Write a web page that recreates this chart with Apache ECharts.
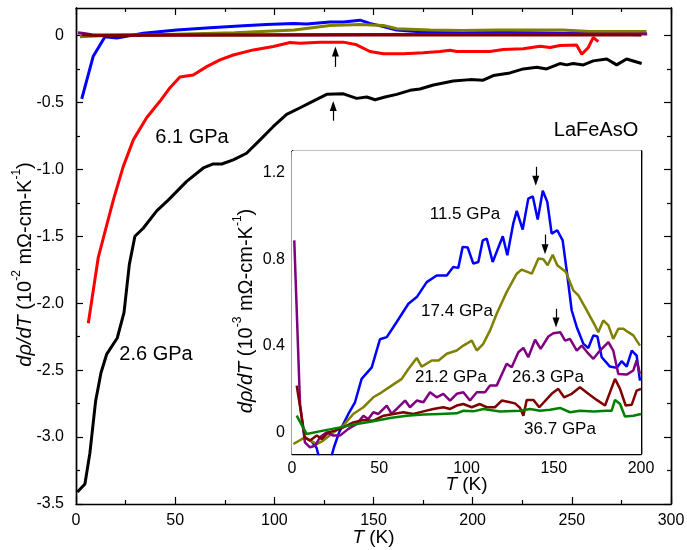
<!DOCTYPE html>
<html>
<head>
<meta charset="utf-8">
<script src="https://cdn.jsdelivr.net/npm/echarts@6/dist/echarts.min.js"></script>
<style>
  html, body { margin: 0; padding: 0; background: #fff; }
  #chart { width: 687px; height: 550px; }
</style>
</head>
<body>
<div id="chart"></div>
<script>
// ---- main panel: d rho / dT in 10^-2 mOhm-cm/K ----
var t26 = [0.7, 4.5, 7, 9.9, 12.6, 15.5, 20.8, 24.2, 26.9, 29.7, 33.9, 40.7, 46.5, 55.8, 64.2, 69.2, 73.5, 79.3, 86, 92.8, 99.5, 106.2, 113, 119.6, 126.4, 134.8, 141.5, 146.6, 150.8, 155.8, 161.7, 168.4, 173.4, 180.2, 190.2, 198.7, 205.3, 210.4, 218.8, 225.5, 232.3, 237.3, 244, 247.4, 250.7, 255.8, 260.8, 267.6, 272.6, 277.6, 285.2];
var v26 = [-3.41, -3.35, -3.12, -2.73, -2.52, -2.38, -2.26, -2.07, -1.71, -1.50, -1.44, -1.31, -1.23, -1.09, -0.99, -0.96, -0.96, -0.93, -0.88, -0.78, -0.68, -0.59, -0.54, -0.49, -0.44, -0.436, -0.47, -0.46, -0.48, -0.46, -0.44, -0.41, -0.40, -0.37, -0.34, -0.33, -0.334, -0.30, -0.28, -0.25, -0.237, -0.25, -0.21, -0.22, -0.21, -0.22, -0.19, -0.176, -0.22, -0.176, -0.21];

var t61 = [6.2, 11.2, 18.8, 23.8, 28.9, 35.6, 42.4, 47.4, 52.4, 59.1, 65.9, 72.6, 79.3, 89.4, 99.5, 107.9, 113, 123, 134.8, 141.5, 148.2, 155, 165, 175.1, 183.5, 188.6, 192, 198.7, 208.7, 215.4, 225.5, 234, 239, 244, 252.4, 255, 258.3, 260.8, 263.3];
var v61 = [-2.15, -1.66, -1.23, -0.98, -0.78, -0.615, -0.49, -0.39, -0.31, -0.295, -0.233, -0.183, -0.146, -0.108, -0.083, -0.053, -0.058, -0.05, -0.05, -0.07, -0.12, -0.137, -0.137, -0.13, -0.12, -0.11, -0.12, -0.12, -0.12, -0.105, -0.1, -0.08, -0.09, -0.075, -0.072, -0.14, -0.09, -0.014, -0.046];

var t115 = [2.9, 8.7, 14.6, 20.5, 33.9, 50.8, 67.6, 84.4, 96.1, 109.6, 116.3, 128, 134.8, 143.2, 148.2, 155, 161.7, 171.7, 186.9, 203.7, 230, 260, 285];
var v115 = [-0.474, -0.155, -0.01, -0.02, 0.016, 0.04, 0.058, 0.073, 0.081, 0.09, 0.086, 0.1, 0.1, 0.114, 0.09, 0.066, 0.04, 0.03, 0.024, 0.024, 0.02, 0.012, 0.005];

var t174 = [2, 15, 40, 80, 110, 128, 143, 155, 161.7, 178.5, 195, 212, 229, 245.6, 259, 287.7];
var v174 = [-0.01, 0, 0.005, 0.02, 0.04, 0.075, 0.082, 0.075, 0.05, 0.04, 0.037, 0.04, 0.04, 0.04, 0.03, 0.03];

var t212 = [1, 4, 8, 20, 100, 200, 288];
var v212 = [0.02, 0.015, 0.005, 0.003, 0.005, 0.008, 0.01];

var t263 = [3, 10, 50, 150, 250, 285];
var v263 = [0.005, 0, 0.002, 0.003, 0.004, 0.004];

// ---- inset: d rho / dT in 10^-3 mOhm-cm/K ----
var it115 = [11, 14, 17, 21, 24, 27, 32.3, 36.1, 39.9, 45.7, 50.4, 54.3, 60, 66.7, 71.5, 77.2, 82.9, 88.7, 92.4, 95.3, 97.8, 100.7, 103.9, 106.8, 109.3, 111.6, 115, 120.8, 123.4, 126.8, 128.8, 132.2, 135.4, 138, 140.8, 143.7, 146.3, 148.8, 152, 155.1, 157.4, 160.3, 163.2, 167, 169.8, 172.7, 175, 177.5, 182.2, 186.1, 188.9, 191.8, 194.7, 197.5, 199.4];
var iv115 = [-0.04, -0.07, -0.16, -0.16, -0.07, 0.0, 0.085, 0.139, 0.247, 0.3, 0.43, 0.44, 0.51, 0.594, 0.625, 0.694, 0.725, 0.725, 0.764, 0.76, 0.857, 0.854, 0.78, 0.787, 0.887, 0.895, 0.787, 0.906, 0.818, 0.965, 1.023, 0.937, 1.08, 1.09, 0.983, 1.116, 1.065, 0.918, 0.934, 0.887, 0.749, 0.563, 0.486, 0.409, 0.39, 0.448, 0.443, 0.347, 0.304, 0.298, 0.329, 0.304, 0.378, 0.355, 0.239];

var it174 = [0.8, 7.4, 14.2, 17.9, 23, 29.4, 35.1, 40.9, 46.6, 51.4, 57.1, 62.9, 66.7, 71.5, 74.3, 80.1, 84, 88.7, 94.4, 98.2, 103, 105.9, 109.6, 113.5, 117.3, 123, 128.8, 131.6, 137.4, 141.2, 144, 146.5, 149.4, 152, 157, 161.2, 164.1, 167.9, 173.6, 175.5, 178.4, 181.3, 184.1, 187, 189.9, 192.7, 195.6, 199.4];
var iv174 = [-0.054, -0.023, -0.054, -0.038, -0.005, 0.031, 0.085, 0.116, 0.162, 0.185, 0.216, 0.247, 0.293, 0.344, 0.304, 0.332, 0.332, 0.363, 0.378, 0.401, 0.424, 0.378, 0.409, 0.471, 0.548, 0.648, 0.733, 0.752, 0.733, 0.803, 0.80, 0.772, 0.821, 0.772, 0.741, 0.656, 0.633, 0.579, 0.494, 0.463, 0.517, 0.494, 0.432, 0.479, 0.479, 0.463, 0.448, 0.401];

var it212 = [1.3, 4.6, 7.4, 10.3, 13.2, 16, 19.9, 23.7, 27.5, 32.3, 37.1, 40.9, 43.7, 46.6, 49.5, 54.3, 57.1, 61.9, 64.8, 67.6, 71.5, 75.3, 79.1, 82.9, 86.7, 90.6, 94.4, 98.2, 102, 105.9, 110.6, 113.5, 117.3, 123, 125.9, 129.7, 132.6, 135.4, 139.3, 142.5, 146.9, 149.8, 153.7, 156.5, 159.3, 163.2, 166, 169.2, 172.7, 176.5, 181.3, 184.1, 187, 191.8, 195.6, 197.5, 199.4];
var iv212 = [0.887, 0.131, -0.046, -0.069, -0.062, -0.023, 0.0, -0.015, -0.015, 0.016, 0.039, 0.077, 0.062, 0.093, 0.085, 0.124, 0.085, 0.124, 0.147, 0.116, 0.147, 0.139, 0.185, 0.162, 0.178, 0.147, 0.178, 0.185, 0.147, 0.185, 0.185, 0.216, 0.216, 0.317, 0.301, 0.37, 0.39, 0.347, 0.428, 0.386, 0.443, 0.458, 0.463, 0.424, 0.432, 0.378, 0.401, 0.37, 0.34, 0.378, 0.417, 0.378, 0.27, 0.267, 0.286, 0.332, 0.27];

var it263 = [2.7, 7.4, 10.3, 14.2, 17, 20.8, 24.6, 29.4, 35.1, 40.9, 46.6, 52.5, 58.1, 63.8, 69.5, 75.3, 81, 86.7, 90.6, 94.4, 98.2, 103, 107.7, 111.6, 116.3, 120.2, 124.9, 127.8, 130.7, 132.6, 134.5, 138.3, 141.7, 148.8, 152.6, 155.9, 160.3, 165, 169.8, 174.6, 179.4, 185.1, 188, 191.2, 194.7, 197.5, 200];
var iv263 = [0.216, -0.023, -0.038, -0.015, -0.031, 0.0, 0.008, 0.023, 0.046, 0.057, 0.054, 0.077, 0.085, 0.093, 0.085, 0.097, 0.108, 0.116, 0.108, 0.124, 0.131, 0.116, 0.131, 0.116, 0.116, 0.147, 0.139, 0.134, 0.113, 0.077, 0.15, 0.15, 0.116, 0.178, 0.201, 0.162, 0.178, 0.208, 0.178, 0.15, 0.124, 0.247, 0.201, 0.124, 0.128, 0.193, 0.201];

var it367 = [2.7, 8.4, 17.9, 27.5, 37.1, 46.6, 56.2, 65.7, 75.3, 84.9, 94.4, 98.2, 104, 109.6, 119.2, 130.7, 136.4, 142.1, 147.9, 153.6, 159.3, 165, 172.7, 180.3, 183.2, 185.1, 188, 190.8, 195.6, 200];
var iv367 = [0.077, -0.008, 0.008, 0.023, 0.039, 0.051, 0.066, 0.077, 0.082, 0.085, 0.088, 0.1, 0.097, 0.108, 0.096, 0.1, 0.108, 0.1, 0.104, 0.113, 0.093, 0.1, 0.096, 0.1, 0.1, 0.15, 0.131, 0.073, 0.077, 0.085];

// arrows: [T, tail value, head value]
var mainArrows = [[130.8, -0.235, -0.12], [129.7, -0.637, -0.527]];
var insetArrows = [[139.7, 1.227, 1.163], [145, 0.914, 0.846], [151.3, 0.571, 0.508]];

// ticks
var mainYMajor = [-3.5, -3, -2.5, -2, -1.5, -1, -0.5, 0];
var mainYMinor = [-3.25, -2.75, -2.25, -1.75, -1.25, -0.75, -0.25];
var insetYMajor = [0, 0.4, 0.8, 1.2];
var insetYMinor = [0.2, 0.6, 1.0];

var FONT = '"Liberation Sans", Arial, sans-serif';
var BLACK = '#000';

function zip(t, v) {
  return t.map(function (x, i) { return [x, v[i]]; });
}
function fmt(v) {
  return Math.abs(v) < 1e-9 ? '0' : v.toFixed(1);
}
var tickStyle = { color: BLACK, width: 1.2 };
var lineStyle = { color: BLACK, width: 1.4 };

function xAx(grid, pos, max, labels, name, margin, gap) {
  return {
    type: 'value', gridIndex: grid, position: pos, min: 0, max: max, interval: 50,
    axisLine: { show: true, onZero: false, lineStyle: lineStyle },
    axisTick: { show: true, inside: true, length: 7, lineStyle: tickStyle },
    minorTick: { show: true, splitNumber: 2, length: 4, lineStyle: tickStyle },
    axisLabel: { show: labels, color: BLACK, fontSize: 16, fontFamily: FONT, margin: margin || 8 },
    splitLine: { show: false },
    name: labels ? name : '',
    nameLocation: 'middle', nameGap: gap || 0, nameMoveOverlap: false,
    nameTextStyle: {
      color: BLACK, fontSize: 19, fontFamily: FONT,
      rich: { i: { fontStyle: 'italic', fontSize: 19, fontFamily: FONT, color: BLACK } }
    }
  };
}
function yAx(grid, pos, min, max, ticks, len, labels, margin, name, gap, fs) {
  fs = fs || 18;
  return {
    type: 'value', gridIndex: grid, position: pos, min: min, max: max,
    axisLine: { show: true, onZero: false, lineStyle: lineStyle },
    axisTick: { show: true, inside: true, length: len, lineStyle: tickStyle, customValues: ticks },
    axisLabel: labels ? { show: true, color: BLACK, fontSize: 16, fontFamily: FONT, margin: margin,
      customValues: ticks, formatter: fmt } : { show: false },
    splitLine: { show: false },
    name: name || '',
    nameLocation: 'middle', nameGap: gap || 0, nameMoveOverlap: false,
    nameTextStyle: {
      color: BLACK, fontSize: fs, fontFamily: FONT, padding: [0, 17, 0, 0],
      rich: {
        i: { fontStyle: 'italic', fontSize: fs, fontFamily: FONT, color: BLACK, verticalAlign: 'bottom', lineHeight: fs + 4 },
        n: { fontSize: fs, fontFamily: FONT, color: BLACK, verticalAlign: 'bottom', lineHeight: fs + 4 },
        s: { fontSize: Math.round(fs * 0.62), fontFamily: FONT, color: BLACK, verticalAlign: 'top', lineHeight: Math.round(fs * 0.7) }
      }
    }
  };
}

var yName2 = '{i|dρ/dT}{n| (10}{s|-2}{n| mΩ-cm-K}{s|-1}{n|)}';
var yName3 = '{i|dρ/dT}{n| (10}{s|-3}{n| mΩ-cm-K}{s|-1}{n|)}';

function arrowData(list) {
  return list.map(function (a) {
    return [{ coord: [a[0], a[1]] }, { coord: [a[0], a[2]] }];
  });
}
function arrowLine(list) {
  return {
    silent: true, animation: false,
    symbol: ['none', 'triangle'], symbolSize: [7, 10],
    lineStyle: { color: BLACK, width: 1.2, type: 'solid' },
    label: { show: false },
    data: arrowData(list)
  };
}

function line(name, t, v, color, width, xi, yi, extra) {
  var s = {
    name: name, type: 'line', xAxisIndex: xi, yAxisIndex: yi,
    data: zip(t, v), symbol: 'none', showSymbol: false, clip: true,
    lineStyle: { color: color, width: width }, itemStyle: { color: color },
    animation: false, silent: true
  };
  if (extra) s.markLine = extra;
  return s;
}

var chart = echarts.init(document.getElementById('chart'), null, { renderer: 'canvas' });

chart.setOption({
  backgroundColor: '#fff',
  animation: false,
  textStyle: { fontFamily: FONT },
  grid: [
    { left: 76, right: 16, top: 8, bottom: 46, show: false, containLabel: false, outerBoundsMode: 'none' },
    { left: 292, right: 46, top: 151, bottom: 96, show: true, backgroundColor: '#fff', borderWidth: 0, z: 3,
      containLabel: false, outerBoundsMode: 'none' }
  ],
  xAxis: [
    xAx(0, 'bottom', 300, true, '{i|T} (K)', 9, 24),
    xAx(0, 'top', 300, false),
    xAx(1, 'bottom', 200, true, '{i|T} (K)', 7, 21),
    xAx(1, 'top', 200, false)
  ],
  yAxis: [
    yAx(0, 'left', -3.5, 0.205, mainYMajor, 7, true, 12, yName2, 41, 20),
    yAx(0, 'left', -3.5, 0.205, mainYMinor, 4, false),
    yAx(0, 'right', -3.5, 0.205, mainYMajor, 7, false),
    yAx(0, 'right', -3.5, 0.205, mainYMinor, 4, false),
    yAx(1, 'left', -0.1, 1.3, insetYMajor, 7, true, 7, yName3, 36, 20),
    yAx(1, 'left', -0.1, 1.3, insetYMinor, 4, false),
    yAx(1, 'right', -0.1, 1.3, insetYMajor, 7, false),
    yAx(1, 'right', -0.1, 1.3, insetYMinor, 4, false)
  ],
  series: [
    line('2.6 GPa', t26, v26, '#000000', 3, 0, 0, arrowLine(mainArrows)),
    line('6.1 GPa', t61, v61, '#ff0000', 3, 0, 0),
    line('11.5 GPa', t115, v115, '#0000ff', 3, 0, 0),
    line('17.4 GPa', t174, v174, '#808000', 3, 0, 0),
    line('21.2 GPa', t212, v212, '#800080', 3, 0, 0),
    line('26.3 GPa', t263, v263, '#800000', 3, 0, 0),
    line('11.5 GPa', it115, iv115, '#0000ff', 2.5, 2, 4),
    line('17.4 GPa', it174, iv174, '#808000', 2.5, 2, 4),
    line('21.2 GPa', it212, iv212, '#800080', 2.5, 2, 4),
    line('26.3 GPa', it263, iv263, '#800000', 2.5, 2, 4),
    line('36.7 GPa', it367, iv367, '#008000', 2.5, 2, 4, arrowLine(insetArrows))
  ],
  graphic: [
    { type: 'text', x: 192, y: 137, style: { text: '6.1 GPa', font: '20px ' + FONT, fill: BLACK, textAlign: 'center', textVerticalAlign: 'middle' } },
    { type: 'text', x: 156, y: 354, style: { text: '2.6 GPa', font: '20px ' + FONT, fill: BLACK, textAlign: 'center', textVerticalAlign: 'middle' } },
    { type: 'text', x: 596, y: 130, style: { text: 'LaFeAsO', font: '20px ' + FONT, fill: BLACK, textAlign: 'center', textVerticalAlign: 'middle' } },
    { type: 'text', x: 465, y: 214, z: 10, style: { text: '11.5 GPa', font: '17px ' + FONT, fill: BLACK, textAlign: 'center', textVerticalAlign: 'middle' } },
    { type: 'text', x: 457, y: 311, z: 10, style: { text: '17.4 GPa', font: '17px ' + FONT, fill: BLACK, textAlign: 'center', textVerticalAlign: 'middle' } },
    { type: 'text', x: 451, y: 377, z: 10, style: { text: '21.2 GPa', font: '17px ' + FONT, fill: BLACK, textAlign: 'center', textVerticalAlign: 'middle' } },
    { type: 'text', x: 548, y: 377, z: 10, style: { text: '26.3 GPa', font: '17px ' + FONT, fill: BLACK, textAlign: 'center', textVerticalAlign: 'middle' } },
    { type: 'text', x: 560, y: 429, z: 10, style: { text: '36.7 GPa', font: '17px ' + FONT, fill: BLACK, textAlign: 'center', textVerticalAlign: 'middle' } }
  ]
});
</script>
</body>
</html>
